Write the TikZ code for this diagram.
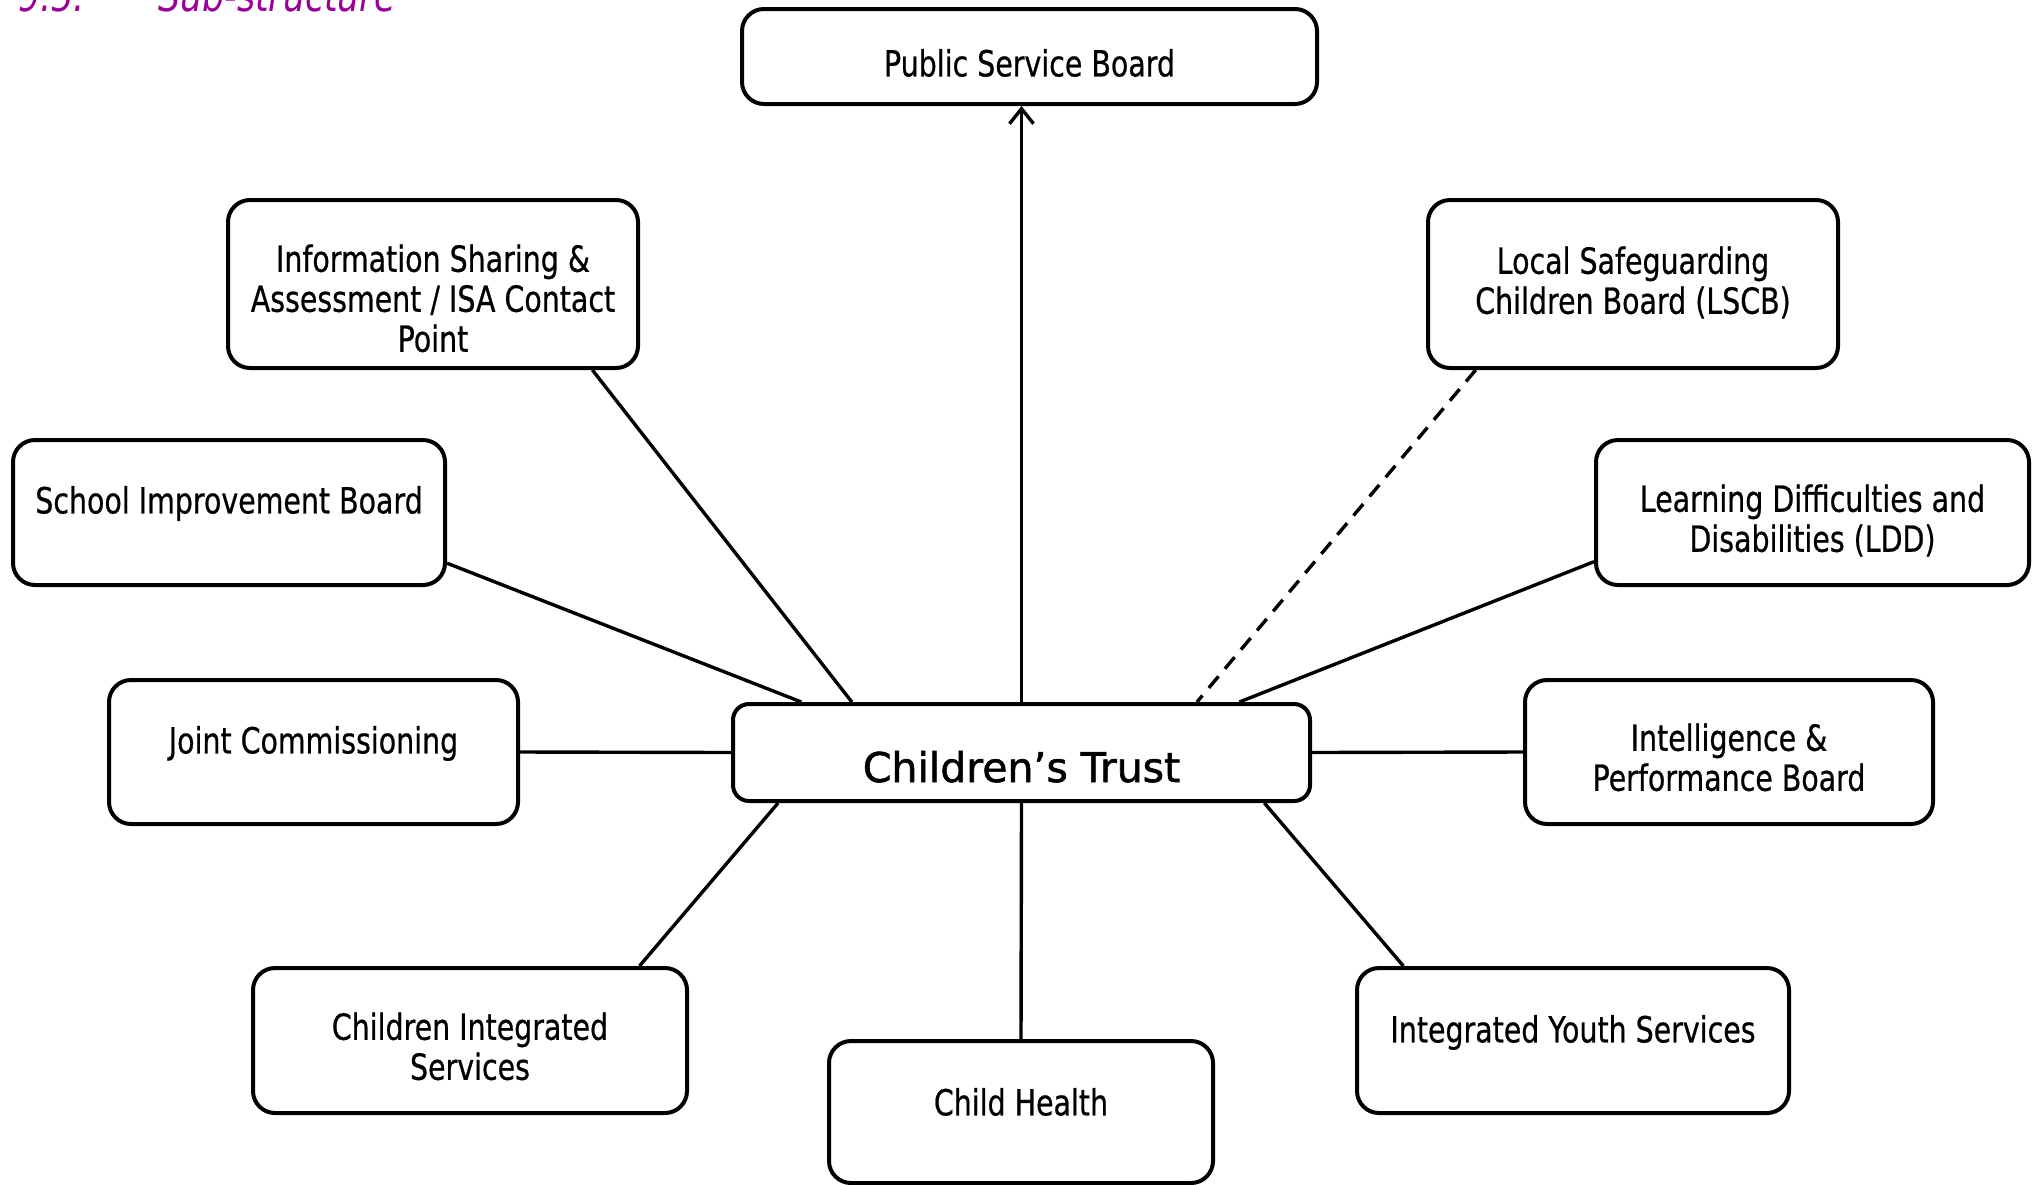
\documentclass[tikz,border=0pt]{standalone}
\usepackage{fontspec}
\setmainfont{DejaVu Sans}[FakeStretch=0.79,FakeBold=0.6]
\newfontfamily\trustfont{DejaVu Sans}[FakeBold=1.4]
\newfontfamily\headfont{DejaVu Sans}[FakeStretch=0.79]
\usetikzlibrary{fit,calc,arrows.meta}
\definecolor{headpurple}{RGB}{153,0,153}

\begin{document}
\begin{tikzpicture}[x=0.5pt,y=-0.5pt,
  panel/.style={draw, line width=2pt, rounded corners=11pt, inner sep=0pt, fill=white},
  boxtext/.style={anchor=north, inner sep=0pt, align=center,
    font=\fontsize{18}{20}\selectfont, execute at begin node=\strut},
  link/.style={line width=1.7pt},
  dashedlink/.style={line width=1.7pt, dash pattern=on 7.5pt off 5pt},
  uparrow/.style={line width=1.7pt, -{Straight Barb[length=7.5pt,width=12pt]}},
]
\useasboundingbox (0,0) rectangle (2040,1184);

% section heading (runs off the top of the page)
\node[anchor=base west, inner sep=0pt, text=headpurple,
  font=\headfont\itshape\fontsize{22}{24}\selectfont] (secno) at (18,11) {9.5.};
\node[anchor=base west, inner sep=0pt, text=headpurple,
  font=\headfont\itshape\fontsize{22}{24}\selectfont] (sectitle) at (158,11) {Sub-structure};

% boxes
\node[panel, fit={(742,9) (1317,104)}] (psb) {};
\node[panel, fit={(228,200) (638,368)}] (info) {};
\node[panel, fit={(1428,200) (1838,368)}] (lscb) {};
\node[panel, fit={(13,440) (445,585)}] (school) {};
\node[panel, fit={(1596,440) (2029,585)}] (ldd) {};
\node[panel, fit={(109,680) (518,824)}] (joint) {};
\node[panel, rounded corners=8pt, fit={(733,704) (1310,801)}] (ct) {};
\node[panel, fit={(1525,680) (1933,824)}] (intel) {};
\node[panel, fit={(253,968) (687,1113)}] (cis) {};
\node[panel, fit={(829,1041) (1213,1183)}] (ch) {};
\node[panel, fit={(1357,968) (1789,1113)}] (iys) {};

% box texts (north = first baseline - strut height)
\node[boxtext] (psb-t) at (1029.5,48) {Public Service Board};
\node[boxtext] (info-t) at (433,244) {Information Sharing \&\\Assessment / ISA Contact\\Point};
\node[boxtext] (lscb-t) at (1633,246) {Local Safeguarding\\Children Board (LSCB)};
\node[boxtext] (school-t) at (229,485) {School Improvement Board};
\node[boxtext] (ldd-t) at (1812.5,484) {Learning Difficulties and\\Disabilities (LDD)};
\node[boxtext] (joint-t) at (313.5,725) {Joint Commissioning};
\node[boxtext] (intel-t) at (1729,723) {Intelligence \&\\Performance Board};
\node[boxtext] (cis-t) at (470,1012) {Children Integrated\\Services};
\node[boxtext] (ch-t) at (1021,1087) {Child Health};
\node[boxtext] (iys-t) at (1573,1014) {Integrated Youth Services};
\node[anchor=base, inner sep=0pt, font=\trustfont\fontsize{20.5}{24}\selectfont] (ct-t)
  at (1021.5,782) {Children’s Trust};

% connectors
\draw[uparrow] (ct.north) -- (ct.north |- psb.south);
\draw[link] ($(info.south west)!0.885!(info.south east)$) -- ($(ct.north west)!0.208!(ct.north east)$);
\draw[link] ($(school.north east)!0.84!(school.south east)$) -- ($(ct.north west)!0.121!(ct.north east)$);
\draw[link] (joint.east) -- (ct.west);
\draw[link] ($(cis.north west)!0.887!(cis.north east)$) -- ($(ct.south west)!0.081!(ct.south east)$);
\draw[link] (ct.south) -- (ch.north);
\draw[link] ($(iys.north west)!0.111!(iys.north east)$) -- ($(ct.south west)!0.918!(ct.south east)$);
\draw[link] (ct.east) -- (intel.west);
\draw[link] ($(ldd.north west)!0.83!(ldd.south west)$) -- ($(ct.north west)!0.875!(ct.north east)$);
\draw[dashedlink] ($(lscb.south west)!0.12!(lscb.south east)$) -- ($(ct.north west)!0.802!(ct.north east)$);
\end{tikzpicture}
\end{document}
